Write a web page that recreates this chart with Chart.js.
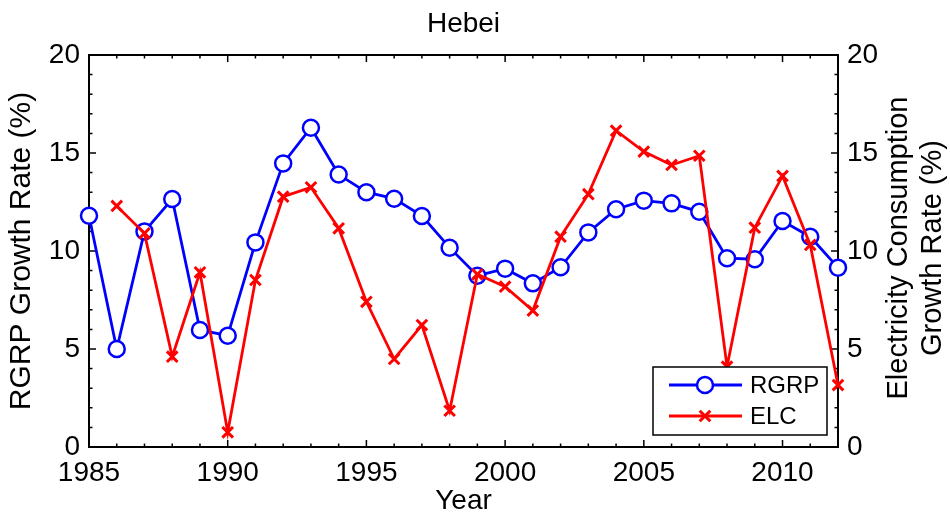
<!DOCTYPE html>
<html>
<head>
<meta charset="utf-8">
<title>Hebei</title>
<script src="https://cdn.jsdelivr.net/npm/chart.js@4.4.1/dist/chart.umd.min.js"></script>
<style>
  body { margin: 0; background: #fff; }
</style>
</head>
<body>
<canvas id="hebei-chart" width="950" height="518"></canvas>
<script>
var years = [1985, 1986, 1987, 1988, 1989, 1990, 1991, 1992, 1993, 1994,
             1995, 1996, 1997, 1998, 1999, 2000, 2001, 2002, 2003, 2004,
             2005, 2006, 2007, 2008, 2009, 2010, 2011, 2012];

// real gross regional product growth (%)
var rgrpGrowth = [11.8, 5.0, 11.0, 12.65, 5.97, 5.68, 10.44, 14.47, 16.29, 13.9,
                  13.0, 12.67, 11.79, 10.17, 8.74, 9.1, 8.35, 9.17, 10.95, 12.13,
                  12.57, 12.43, 12.0, 9.63, 9.58, 11.53, 10.73, 9.15];

// electricity consumption growth (%), no value for 1985
var elcGrowth = [null, 12.3, 10.9, 4.61, 8.91, 0.75, 8.52, 12.77, 13.25, 11.16,
                 7.41, 4.49, 6.22, 1.85, 8.81, 8.18, 6.96, 10.73, 12.9, 16.14,
                 15.07, 14.39, 14.86, 4.1, 11.19, 13.83, 10.31, 3.16];

var xTickValues = [1985, 1990, 1995, 2000, 2005, 2010];
var yTickValues = [0, 5, 10, 15, 20];
var seriesNames = ['RGRP', 'ELC'];
var rightAxisTitle = ['Electricity Consumption', 'Growth Rate (%)'];

var fontFamily = '"Liberation Sans", Arial, Helvetica, sans-serif';

function toPoints(values) {
    var pts = [];
    for (var i = 0; i < years.length; i++) {
        if (values[i] !== null) {
            pts.push({ x: years[i], y: values[i] });
        }
    }
    return pts;
}

function tickList(list) {
    return function (axis) {
        axis.ticks = list.map(function (v) { return { value: v }; });
    };
}

// box around the plot with inward major/minor ticks on all four sides
var frameTicks = {
    id: 'frameTicks',
    beforeDatasetsDraw: function (chart) {
        var ctx = chart.ctx;
        var area = chart.chartArea;
        var xs = chart.scales.x;
        var ys = chart.scales.y;
        var yr = chart.scales.y1;
        ctx.save();
        ctx.strokeStyle = '#000';
        ctx.lineWidth = 1.5;
        ctx.beginPath();
        for (var t = xs.min; t <= xs.max; t++) {
            var px = xs.getPixelForValue(t);
            var len = (t % 5 === 0) ? 7 : 3.5;
            ctx.moveTo(px, area.bottom);
            ctx.lineTo(px, area.bottom - len);
            ctx.moveTo(px, area.top);
            ctx.lineTo(px, area.top + len);
        }
        for (var v = ys.min; v <= ys.max; v++) {
            var len2 = (v % 5 === 0) ? 7 : 3.5;
            var pl = ys.getPixelForValue(v);
            var pr = yr.getPixelForValue(v);
            ctx.moveTo(area.left, pl);
            ctx.lineTo(area.left + len2, pl);
            ctx.moveTo(area.right, pr);
            ctx.lineTo(area.right - len2, pr);
        }
        ctx.stroke();
        ctx.lineWidth = 2;
        ctx.strokeRect(area.left, area.top, area.right - area.left, area.bottom - area.top);
        ctx.restore();
    },
    afterDraw: function (chart) {
        // right axis title reads bottom to top, two lines
        var ctx = chart.ctx;
        var area = chart.chartArea;
        var cy = (area.top + area.bottom) / 2 - 3;
        ctx.save();
        ctx.fillStyle = '#000';
        ctx.font = '29px ' + fontFamily;
        ctx.textAlign = 'center';
        ctx.textBaseline = 'alphabetic';
        var baselines = [area.right + 69, area.right + 103];
        for (var i = 0; i < rightAxisTitle.length; i++) {
            ctx.save();
            ctx.translate(baselines[i], cy);
            ctx.rotate(-Math.PI / 2);
            ctx.fillText(rightAxisTitle[i], 0, 0);
            ctx.restore();
        }
        ctx.restore();
    }
};

// boxed legend in the lower right corner of the plot
var cornerLegend = {
    id: 'cornerLegend',
    afterDatasetsDraw: function (chart) {
        var ctx = chart.ctx;
        var area = chart.chartArea;
        var w = 174, h = 68;
        var left = area.right - 11 - w;
        var top = area.bottom - 12 - h;
        ctx.save();
        ctx.fillStyle = '#fff';
        ctx.fillRect(left, top, w, h);
        ctx.strokeStyle = '#000';
        ctx.lineWidth = 1.5;
        ctx.strokeRect(left, top, w, h);
        chart.data.datasets.forEach(function (ds, i) {
            var y = top + 18 + i * 31;
            var x0 = left + 16, x1 = left + 89, xm = left + 52;
            ctx.strokeStyle = ds.borderColor;
            ctx.lineWidth = ds.borderWidth;
            ctx.beginPath();
            ctx.moveTo(x0, y);
            ctx.lineTo(x1, y);
            ctx.stroke();
            ctx.fillStyle = ds.pointBackgroundColor;
            ctx.strokeStyle = ds.pointBorderColor;
            ctx.lineWidth = ds.pointBorderWidth;
            Chart.helpers.drawPoint(ctx, {
                pointStyle: ds.pointStyle,
                radius: ds.pointRadius,
                rotation: 0,
                borderWidth: ds.pointBorderWidth
            }, xm, y);
            ctx.fillStyle = '#000';
            ctx.font = '24px ' + fontFamily;
            ctx.textAlign = 'left';
            ctx.textBaseline = 'middle';
            ctx.fillText(ds.label, left + 97, y + 1);
        });
        ctx.restore();
    }
};

var ctx = document.getElementById('hebei-chart');

var chart = new Chart(ctx, {
    type: 'line',
    data: {
        datasets: [
            {
                label: seriesNames[0],
                data: toPoints(rgrpGrowth),
                yAxisID: 'y',
                borderColor: '#0000ff',
                borderWidth: 2.8,
                pointStyle: 'circle',
                pointRadius: 8,
                pointBorderWidth: 2.5,
                pointBorderColor: '#0000ff',
                pointBackgroundColor: '#ffffff',
                tension: 0,
                clip: false,
                order: 1
            },
            {
                label: seriesNames[1],
                data: toPoints(elcGrowth),
                yAxisID: 'y1',
                borderColor: '#ff0000',
                borderWidth: 2.8,
                pointStyle: 'crossRot',
                pointRadius: 7.5,
                pointBorderWidth: 3,
                pointBorderColor: '#ff0000',
                pointBackgroundColor: '#ff0000',
                tension: 0,
                clip: false,
                order: 0
            }
        ]
    },
    options: {
        responsive: false,
        animation: false,
        devicePixelRatio: 1,
        layout: { padding: 0 },
        plugins: {
            legend: { display: false },
            tooltip: { enabled: false },
            title: {
                display: true,
                text: 'Hebei',
                fullSize: false,
                color: '#000',
                font: { family: fontFamily, size: 28, weight: 'normal', lineHeight: 1.2 },
                padding: { top: 7, bottom: 14.4 }
            }
        },
        scales: {
            x: {
                type: 'linear',
                min: years[0],
                max: years[years.length - 1],
                afterBuildTicks: tickList(xTickValues),
                afterFit: function (axis) {
                    axis.height = 71;
                    axis.paddingLeft = 0;
                    axis.paddingRight = 0;
                },
                grid: { display: false, drawTicks: false },
                border: { display: false },
                ticks: {
                    color: '#000',
                    padding: 9,
                    maxRotation: 0,
                    autoSkip: false,
                    font: { family: fontFamily, size: 28 },
                    callback: function (v) { return String(v); }
                },
                title: {
                    display: true,
                    text: 'Year',
                    color: '#000',
                    font: { family: fontFamily, size: 28, lineHeight: 1.2 },
                    padding: { top: 0, bottom: 0 }
                }
            },
            y: {
                position: 'left',
                min: 0,
                max: 20,
                afterBuildTicks: tickList(yTickValues),
                afterFit: function (axis) {
                    axis.width = 89;
                    axis.paddingTop = 0;
                    axis.paddingBottom = 0;
                },
                grid: { display: false, drawTicks: false },
                border: { display: false },
                ticks: {
                    color: '#000',
                    padding: 9,
                    font: { family: fontFamily, size: 28 }
                },
                title: {
                    display: true,
                    text: 'RGRP Growth Rate (%)',
                    color: '#000',
                    font: { family: fontFamily, size: 30, lineHeight: 1.2 },
                    padding: { top: 4, bottom: 0 }
                }
            },
            y1: {
                position: 'right',
                min: 0,
                max: 20,
                afterBuildTicks: tickList(yTickValues),
                afterFit: function (axis) {
                    axis.width = 112;
                    axis.paddingTop = 0;
                    axis.paddingBottom = 0;
                },
                grid: { display: false, drawTicks: false },
                border: { display: false },
                ticks: {
                    color: '#000',
                    padding: 9,
                    font: { family: fontFamily, size: 28 }
                }
            }
        }
    },
    plugins: [frameTicks, cornerLegend]
});
</script>
</body>
</html>
